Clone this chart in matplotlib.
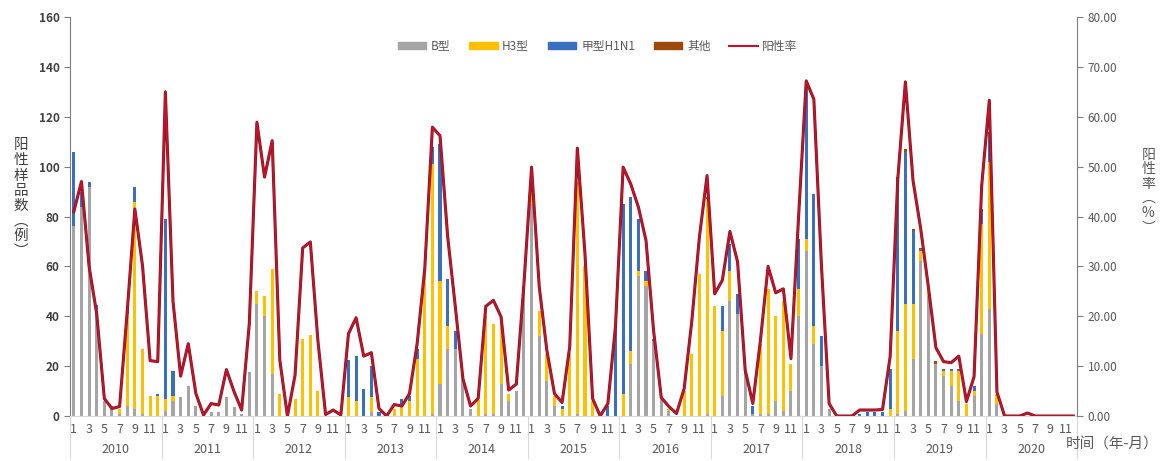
import matplotlib
matplotlib.use("Agg")
import matplotlib.pyplot as plt
import matplotlib.patheffects as pe
from matplotlib.patches import Patch
from matplotlib.lines import Line2D
import numpy as np

plt.rcParams['font.family'] = ['Noto Sans CJK SC', 'DejaVu Sans']

years = [str(y) for y in range(2010, 2021)]
month_labels = ['1', '3', '5', '7', '9', '11']

# monthly counts, Jan 2010 .. Dec 2020
flu_b = [76, 84, 92, 43, 6, 4, 1, 4, 3, 1, 0, 0,
         2, 6, 7.5, 12, 4, 0, 1.7, 1.7, 7.7, 3.7, 0.8, 17.7,
         45, 40, 17, 0, 0, 0, 0, 0, 0, 0, 0, 0,
         0, 0, 0, 1.5, 0, 0, 0, 0, 0, 0, 0, 1,
         13, 27, 27, 15, 3, 0, 1, 1, 13, 6, 10, 50,
         85, 32, 14, 4, 0, 0, 1, 0, 0, 0, 0, 0,
         0, 21, 56, 52, 30, 7, 2, 0, 0, 0, 0, 1,
         0, 8, 46, 41, 17, 1, 1, 1, 6, 2, 10, 40,
         66, 29, 20, 3, 0, 0, 0, 0, 0, 0, 0, 0,
         1, 2, 23, 62, 48, 21, 16, 12, 6, 0, 8, 33,
         43, 5, 0, 0, 0, 0, 0, 0, 0, 0, 0, 0]
h3 = [0, 0, 0, 0, 0, 0, 2, 37, 83, 26, 8, 8,
      5, 2, 0, 0, 0, 0, 0, 0, 0, 0, 0, 0,
      5, 8, 42, 9, 0, 6.8, 31, 32.4, 10, 0, 0, 0,
      7.5, 6, 0, 6, 0, 0, 3, 5, 6, 23, 58, 100,
      41, 9, 0, 0, 0, 6.4, 39, 36, 26, 3, 0, 2,
      6, 10, 11, 4, 3, 25, 93, 60, 6, 0, 0, 0,
      9, 5, 2, 2, 0, 0, 1, 0, 10, 25, 57, 86,
      44, 26, 12, 0, 0, 0, 28, 50, 34, 44, 11, 11,
      5, 7, 0, 0, 0, 0, 0, 0, 0, 0, 0, 3,
      33, 43, 22, 4, 2, 0, 2, 6, 12, 5, 2, 44,
      59, 4, 0, 0, 0, 0, 0, 0, 0, 0, 0, 0]
h1n1 = [30, 6, 2, 1.5, 0, 0, 0, 3, 6, 0, 0, 1,
        72, 10, 0, 0, 0, 0, 0, 0, 0, 0, 0, 0,
        0, 0, 0, 0, 0, 0, 0, 0, 0, 0, 0, 0,
        15, 18, 11, 12.5, 1.7, 0, 0, 2, 2, 4, 1, 7,
        55, 19, 7, 0, 0, 0, 0, 0, 0, 0, 0, 0,
        0, 0, 0, 0, 1, 0, 0, 0, 0, 0, 4, 36,
        76, 62, 21, 4, 1, 0, 0, 0, 0, 0, 0, 1,
        0, 10, 11, 8, 1, 3, 0, 0, 0, 0, 0, 20,
        63, 53, 12, 0, 0, 0, 0, 1, 1.7, 1.7, 1.7, 16,
        62, 61, 29, 1, 0, 0, 1, 1, 1, 0, 2, 5,
        11, 0, 0, 0, 0, 0, 0, 0, 0, 0, 0, 0]
other = [0] * 109 + [1, 1, 0.5, 0, 1, 0, 0, 0, 0, 0, 1, 1] + [0] * 11
pos_rate = [41, 47, 30, 20.5, 3.5, 1.5, 1.9, 21, 41.5, 30.2, 11.1, 10.9,
            65, 23, 8, 14.5, 4.5, 0.2, 2.5, 2.2, 9.3, 4.9, 1.2, 18.5,
            58.9, 47.9, 55.2, 11.2, 0, 8.2, 33.7, 34.9, 15, 0.3, 1.2, 0.2,
            16.5, 19.7, 12, 12.7, 1.5, 0, 2.3, 2.0, 4.5, 14.5, 29.5, 57.9,
            56.2, 36, 22, 7.5, 2, 3.5, 22, 23.2, 19.9, 5.2, 6.4, 26.5,
            49.9, 26, 13.2, 4.5, 2.7, 13.9, 53.7, 32.5, 3.5, 0, 2.5, 18,
            49.9, 46.5, 41.9, 35.2, 17, 3.7, 1.9, 0.5, 5.5, 19, 35.9, 48.2,
            24.5, 27.2, 37, 30.9, 9.2, 2.5, 15.2, 30, 24.7, 25.5, 11.5, 40,
            67.2, 63.5, 30, 2.5, 0, 0, 0, 1.2, 1.2, 1.2, 1.3, 11.9,
            47.5, 67, 47.2, 37.6, 26, 13.7, 10.9, 10.7, 12, 2.9, 7.9, 46.2,
            63.3, 4.8, 0, 0, 0, 0.6, 0, 0, 0, 0, 0, 0]

c_b, c_h3, c_h1, c_o, c_line = '#A5A5A5', '#FFC000', '#3A6FC0', '#9E480E', '#C8102E'
txt = '#595959'

x = np.arange(len(flu_b))
b = np.array(flu_b, float)
h = np.array(h3, float)
n1 = np.array(h1n1, float)
o = np.array(other, float)

fig = plt.figure(figsize=(11.61, 4.61), dpi=100)
ax = fig.add_axes([0.0603, 0.0976, 0.8674, 0.8655])
w = 0.4
ax.bar(x, b, w, color=c_b, label='B型')
ax.bar(x, h, w, bottom=b, color=c_h3, label='H3型')
ax.bar(x, n1, w, bottom=b + h, color=c_h1, label='甲型H1N1')
ax.bar(x, o, w, bottom=b + h + n1, color=c_o, label='其他')

ax.set_xlim(-0.5, len(x) - 0.5)
ax.set_ylim(0, 160)
ax.set_yticks(range(0, 161, 20))
ax.tick_params(axis='y', direction='out', length=4, color='#7f7f7f',
               labelsize=8.5, labelcolor='#404040')
for lab in ax.get_yticklabels():
    lab.set_fontweight('bold')
ax.set_xticks(np.arange(0, len(x), 2))
ax.set_xticklabels(month_labels * len(years), fontsize=9, color=txt)
ax.tick_params(axis='x', length=0, pad=5)
ax.spines['top'].set_visible(False)
ax.spines['right'].set_visible(False)
ax.spines['left'].set_color('#7f7f7f')
ax.spines['bottom'].set_color('#D9D9D9')

# year groups under the month labels
tr = ax.get_xaxis_transform()
for k, yr in enumerate(years):
    ax.text(k * 12 + 5.5, -0.085, yr, transform=tr, ha='center', va='center',
            fontsize=9, color=txt)
for k in range(len(years) + 1):
    ax.add_line(Line2D([k * 12 - 0.5] * 2, [0, -0.105], transform=tr,
                       color='#D9D9D9', lw=0.8, clip_on=False))

ax2 = ax.twinx()
ax2.plot(x, pos_rate, color=c_line, lw=1.3, label='阳性率',
         path_effects=[pe.Stroke(linewidth=2.2, foreground='#7A1C1C'), pe.Normal()])
ax2.set_ylim(0, 80)
ax2.set_yticks(range(0, 81, 10))
ax2.set_yticklabels([f'{v:.2f}' for v in range(0, 81, 10)])
ax2.tick_params(axis='y', direction='out', length=4, color='#7f7f7f',
                labelsize=8.5, labelcolor=txt)
ax2.spines['top'].set_visible(False)
ax2.spines['left'].set_visible(False)
ax2.spines['bottom'].set_visible(False)
ax2.spines['right'].set_color('#7f7f7f')

handles = [Patch(color=c_b), Patch(color=c_h3), Patch(color=c_h1), Patch(color=c_o),
           Line2D([], [], color=c_line, lw=1.5)]
labels = ['B型', 'H3型', '甲型H1N1', '其他', '阳性率']
leg = ax2.legend(handles, labels, loc='center', bbox_to_anchor=(0.524, 0.927),
                 ncol=5, frameon=False, fontsize=8.5, handlelength=2.4,
                 handleheight=0.45, columnspacing=1.6, handletextpad=0.4)
for t in leg.get_texts():
    t.set_color(txt)

fig.text(0.018, 0.57, '阳\n性\n样\n品\n数\n︵\n例\n︶', ha='center', va='center',
         fontsize=10.5, linespacing=1.1, color='#404040', fontweight='medium')
fig.text(0.989, 0.585, '阳\n性\n率\n︵\n%\n︶', ha='center', va='center',
         fontsize=10, linespacing=1.05, color=txt)
fig.text(0.998, 0.02, '时间（年-月）', ha='right', va='bottom', fontsize=10.5, color=txt)

fig.savefig('out.png', dpi=100)
